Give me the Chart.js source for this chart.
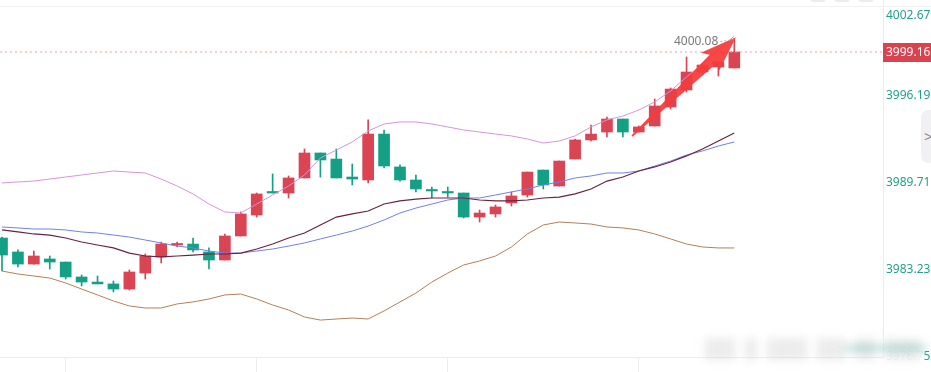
<!DOCTYPE html>
<html>
<head>
<meta charset="utf-8">
<script src="https://cdn.jsdelivr.net/npm/chart.js@4.4.0/dist/chart.umd.min.js"></script>
<style>
  html, body { margin: 0; padding: 0; background: #fff; }
  #wrap { position: relative; width: 931px; height: 372px; overflow: hidden; }
  #wrap canvas { position: absolute; left: 0; top: 0; }
  .topline { position: absolute; left: 0; top: 6px; width: 931px; height: 1px; background: #f2f2f2; }
  .stub { position: absolute; top: -7px; width: 16px; height: 9px; border-radius: 4px; background: #ececec; }
  .fold { position: absolute; left: 921px; top: 110px; width: 20px; height: 53px; background: #f1f1f3;
          border-radius: 7px 0 0 7px; color: #888; font: 15px "Noto Sans", sans-serif; line-height: 53px;
          padding-left: 3px; box-sizing: border-box; }
  .mark { position: absolute; left: 705px; top: 334px; width: 222px; height: 30px; filter: blur(4px); }
  .mark span { position: absolute; top: 4px; height: 22px; background: rgba(200,200,200,0.35); }
  .mark i { position: absolute; left: 140px; top: 12px; width: 82px; height: 4px; background: rgba(40,160,140,0.45); }
  .veil { position: absolute; left: 884px; top: 338px; width: 40px; height: 28px; background: rgba(255,255,255,0.93); filter: blur(1px); }
</style>
</head>
<body>
<div id="wrap">
  <canvas id="kline" width="931" height="372"></canvas>
  <div class="topline"></div>
  <div class="stub" style="left:810px"></div>
  <div class="stub" style="left:834px"></div>
  <div class="stub" style="left:858px"></div>
  <div class="fold">&gt;</div>
  <div class="veil"></div>
  <div class="mark">
    <span style="left:0;width:30px"></span><span style="left:40px;width:12px"></span>
    <span style="left:62px;width:40px"></span><span style="left:112px;width:28px"></span>
    <span style="left:150px;width:20px"></span><span style="left:180px;width:35px"></span>
    <i></i>
  </div>
</div>
<script>
// candles, one per bar (index 0 = left edge)
const opens = [3985.31, 3984.27, 3983.37, 3983.75, 3983.52, 3982.41, 3982.03, 3981.89, 3981.51, 3982.70,
  3983.90, 3984.79, 3984.86, 3984.27, 3983.67, 3985.46, 3987.02, 3988.74, 3988.66, 3989.78,
  3991.64, 3991.19, 3989.85, 3989.63, 3993.05, 3990.60, 3989.63, 3988.88, 3988.74, 3988.66,
  3986.87, 3987.10, 3987.92, 3988.51, 3990.37, 3989.18, 3991.19, 3992.61, 3993.20, 3994.17,
  3993.20, 3993.65, 3995.06, 3996.33, 3997.67, 3998.04, 3997.97];
const highs = [3985.38, 3984.42, 3984.34, 3983.97, 3983.52, 3982.56, 3982.48, 3982.11, 3982.93, 3984.12,
  3985.01, 3985.01, 3985.31, 3984.57, 3985.61, 3987.25, 3988.66, 3990.08, 3989.93, 3991.94,
  3991.64, 3991.94, 3990.82, 3994.10, 3993.35, 3990.75, 3990.00, 3989.11, 3989.11, 3988.66,
  3987.39, 3987.77, 3988.74, 3990.22, 3990.37, 3991.04, 3992.68, 3993.72, 3994.32, 3994.17,
  3993.65, 3995.66, 3996.48, 3998.79, 3998.27, 3998.42, 4000.08];
const lows = [3982.85, 3983.15, 3983.37, 3983.00, 3982.26, 3981.74, 3981.89, 3981.29, 3981.44, 3982.26,
  3983.45, 3984.64, 3984.27, 3983.00, 3983.67, 3985.46, 3986.87, 3988.66, 3988.29, 3989.78,
  3989.85, 3989.78, 3989.26, 3989.41, 3990.52, 3989.55, 3988.74, 3988.29, 3988.36, 3986.80,
  3986.50, 3986.87, 3987.69, 3988.36, 3988.96, 3989.18, 3991.19, 3992.53, 3992.83, 3992.83,
  3993.20, 3993.65, 3994.92, 3996.18, 3997.45, 3997.37, 3997.97];
const closes = [3984.04, 3983.37, 3983.97, 3983.52, 3982.41, 3982.03, 3981.89, 3981.51, 3982.78, 3983.97,
  3984.86, 3984.86, 3984.42, 3983.67, 3985.46, 3987.10, 3988.59, 3988.66, 3989.78, 3991.64,
  3991.12, 3989.78, 3989.70, 3993.05, 3990.67, 3989.63, 3988.96, 3988.81, 3988.66, 3986.87,
  3987.17, 3987.62, 3988.44, 3990.22, 3989.26, 3991.04, 3992.61, 3993.05, 3994.17, 3993.20,
  3993.58, 3995.14, 3996.40, 3997.67, 3998.19, 3998.42, 3999.16];

// indicator lines
const bollUpper = [3989.41, 3989.48, 3989.55, 3989.70, 3989.85, 3990.00, 3990.15, 3990.30, 3990.22, 3990.15,
  3989.70, 3989.18, 3988.59, 3987.84, 3987.25, 3987.17, 3987.84, 3988.51, 3989.18, 3990.00,
  3991.27, 3991.86, 3992.46, 3993.28, 3993.80, 3993.95, 3993.95, 3993.80, 3993.58, 3993.35,
  3993.20, 3993.05, 3992.91, 3992.68, 3992.38, 3992.53, 3992.91, 3993.58, 3994.10, 3994.39,
  3994.84, 3995.44, 3996.26, 3997.30, 3998.27, 3999.31, 4000.35];
const bollLower = [3982.85, 3982.63, 3982.48, 3982.33, 3981.96, 3981.51, 3981.07, 3980.62, 3980.25, 3980.10,
  3980.10, 3980.40, 3980.55, 3980.77, 3981.07, 3981.14, 3980.77, 3980.32, 3979.95, 3979.43,
  3979.20, 3979.28, 3979.35, 3979.28, 3979.88, 3980.55, 3981.21, 3982.03, 3982.70, 3983.30,
  3983.60, 3983.97, 3984.64, 3985.61, 3986.28, 3986.50, 3986.43, 3986.35, 3986.13, 3986.06,
  3985.91, 3985.61, 3985.24, 3984.86, 3984.64, 3984.57, 3984.57];
const maSlow = [3985.91, 3985.76, 3985.61, 3985.53, 3985.31, 3985.01, 3984.79, 3984.57, 3984.19, 3983.97,
  3983.90, 3983.97, 3984.04, 3984.12, 3984.12, 3984.19, 3984.49, 3984.86, 3985.31, 3985.68,
  3986.28, 3986.87, 3987.10, 3987.32, 3987.84, 3988.07, 3988.21, 3988.29, 3988.29, 3988.29,
  3988.14, 3988.07, 3988.07, 3988.14, 3988.29, 3988.36, 3988.59, 3988.96, 3989.55, 3989.85,
  3990.30, 3990.60, 3990.97, 3991.42, 3991.94, 3992.53, 3993.13];
const maBlue = [3986.13, 3986.06, 3985.98, 3985.98, 3985.91, 3985.76, 3985.68, 3985.53, 3985.38, 3985.16,
  3984.94, 3984.71, 3984.57, 3984.34, 3984.19, 3984.19, 3984.34, 3984.49, 3984.71, 3984.94,
  3985.24, 3985.53, 3985.83, 3986.20, 3986.65, 3987.17, 3987.54, 3987.84, 3988.14, 3988.29,
  3988.29, 3988.51, 3988.74, 3988.96, 3989.26, 3989.48, 3989.78, 3989.93, 3990.15, 3990.15,
  3990.30, 3990.67, 3991.04, 3991.49, 3991.79, 3992.16, 3992.46];

// axes
const yTicks = [4002.67, 3996.19, 3989.71, 3983.23, 3976.75];
const xTicks = [4, 16, 28, 40];
const yMin = 3976.45, yMax = 4003.03;
const xMin = -0.126, xMax = 55.34;

// drawn trend arrow (bar index, price)
const arrowFrom = { x: 39.57, y: 3992.90 };
const arrowTo = { x: 46.1, y: 4000.25 };

const UP = "#da4453";
const DOWN = "#14a085";
const FONT = '"Noto Sans", sans-serif';
const lastPrice = closes[closes.length - 1];

const pts = (arr) => arr.map((v, i) => ({ x: i, y: v }));
const candleColor = (c) => (closes[c.dataIndex] >= opens[c.dataIndex] ? UP : DOWN);

const overlay = {
  id: "overlay",
  afterDatasetsDraw(chart) {
    const { ctx, scales: { x, y } } = chart;
    ctx.save();

    // arrow
    const x0 = x.getPixelForValue(arrowFrom.x), y0 = y.getPixelForValue(arrowFrom.y);
    const x1 = x.getPixelForValue(arrowTo.x), y1 = y.getPixelForValue(arrowTo.y);
    const len = Math.hypot(x1 - x0, y1 - y0);
    const dx = (x1 - x0) / len, dy = (y1 - y0) / len;
    const nx = -dy, ny = dx;
    const hl = 31, hw = 13, sw = 5.5, tw = 0.8;
    const bx = x1 - dx * hl, by = y1 - dy * hl;
    ctx.fillStyle = "rgba(246, 60, 60, 0.94)";
    ctx.beginPath();
    ctx.moveTo(x0 + nx * tw, y0 + ny * tw);
    ctx.lineTo(bx + nx * sw, by + ny * sw);
    ctx.lineTo(bx - dx * 5 + nx * hw, by - dy * 5 + ny * hw);
    ctx.lineTo(x1, y1);
    ctx.lineTo(bx - dx * 5 - nx * hw, by - dy * 5 - ny * hw);
    ctx.lineTo(bx - nx * sw, by - ny * sw);
    ctx.lineTo(x0 - nx * tw, y0 - ny * tw);
    ctx.closePath();
    ctx.fill();

    // highest price marker
    const hi = highs.indexOf(Math.max(...highs));
    const hx = x.getPixelForValue(hi), hy = y.getPixelForValue(highs[hi]);
    ctx.font = "12px " + FONT;
    ctx.fillStyle = "#7a7a7a";
    ctx.textAlign = "right";
    ctx.textBaseline = "middle";
    ctx.fillText(highs[hi].toFixed(2), hx - 16, hy + 2);
    ctx.strokeStyle = "#b0b0b0";
    ctx.lineWidth = 1;
    ctx.setLineDash([2, 2]);
    ctx.beginPath();
    ctx.moveTo(hx - 14, hy + 2);
    ctx.lineTo(hx - 1, hy);
    ctx.stroke();
    ctx.restore();
  },
  afterDraw(chart) {
    // current price tag on the axis
    const { ctx, chartArea, scales: { y } } = chart;
    const py = Math.round(y.getPixelForValue(lastPrice));
    ctx.save();
    ctx.fillStyle = "#d9434f";
    ctx.fillRect(chartArea.right, py - 9, chart.width - chartArea.right, 19);
    ctx.fillStyle = "#fff";
    ctx.font = "12px " + FONT;
    ctx.textBaseline = "middle";
    ctx.fillText(lastPrice.toFixed(2), chartArea.right + 3, py + 1);
    ctx.restore();
  },
};

new Chart(document.getElementById("kline"), {
  data: {
    datasets: [
      {
        type: "line", data: pts(bollUpper), borderColor: "#d596d8", borderWidth: 1,
        pointRadius: 0, order: 0,
      },
      {
        type: "line", data: pts(bollLower), borderColor: "#b38057", borderWidth: 1,
        pointRadius: 0, order: 0,
      },
      {
        type: "line", data: pts(maSlow), borderColor: "#6a2242", borderWidth: 1.2,
        pointRadius: 0, order: 0,
      },
      {
        type: "line", data: pts(maBlue), borderColor: "#6f82e6", borderWidth: 1,
        pointRadius: 0, order: 0,
      },
      {
        type: "line", data: [{ x: xMin, y: lastPrice }, { x: xMax, y: lastPrice }],
        borderColor: "#eea3ab", borderWidth: 1, borderDash: [2, 3], pointRadius: 0, order: 0,
      },
      {
        type: "bar", data: highs.map((h, i) => ({ x: i, y: [lows[i], h] })),
        backgroundColor: candleColor, barThickness: 1, grouped: false, order: 1,
      },
      {
        type: "bar",
        data: opens.map((o, i) => ({ x: i, y: [Math.min(o, closes[i]), Math.max(o, closes[i])] })),
        backgroundColor: candleColor, barThickness: 11, grouped: false, minBarLength: 1.5, order: 1,
      },
    ],
  },
  options: {
    responsive: false,
    animation: false,
    devicePixelRatio: 1,
    layout: { padding: 0 },
    plugins: { legend: { display: false }, tooltip: { enabled: false } },
    scales: {
      x: {
        type: "linear", min: xMin, max: xMax, offset: false,
        afterBuildTicks: (s) => { s.ticks = xTicks.map((v) => ({ value: v })); },
        afterFit: (s) => { s.height = 15; s.paddingLeft = 0; s.paddingRight = 0; },
        grid: { drawOnChartArea: false, offset: false, color: "#ededed", tickLength: 15 },
        border: { color: "#ededed" },
        ticks: { callback: () => "", padding: 0 },
      },
      y: {
        type: "linear", position: "right", min: yMin, max: yMax,
        afterBuildTicks: (s) => { s.ticks = yTicks.map((v) => ({ value: v })); },
        afterFit: (s) => { s.width = 48; s.paddingTop = 0; s.paddingBottom = 0; },
        grid: { drawOnChartArea: false, drawTicks: false },
        border: { color: "#ededed" },
        ticks: {
          autoSkip: false, color: "#25a08e", padding: 3, labelOffset: 4,
          font: { family: FONT, size: 12 },
          // the top label sits inside the frame, one half line lower
          callback: (v, i) => (i === 0 ? ["", Number(v).toFixed(2)] : Number(v).toFixed(2)),
        },
      },
    },
  },
  plugins: [overlay],
});
</script>
</body>
</html>
